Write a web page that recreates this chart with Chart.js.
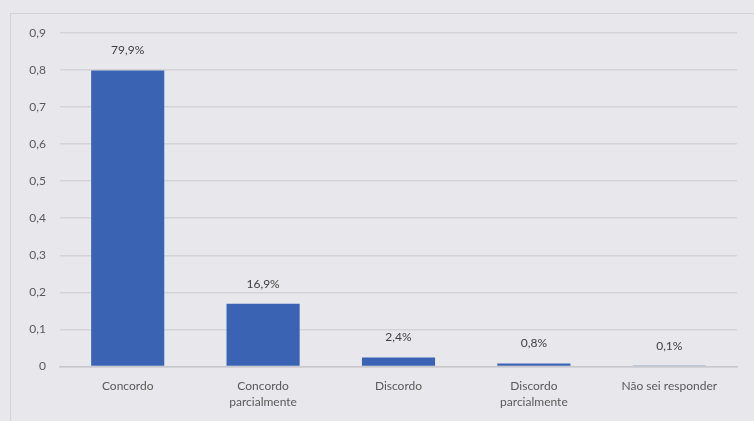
<!DOCTYPE html>
<html>
<head>
<meta charset="utf-8">
<script src="https://cdn.jsdelivr.net/npm/chart.js@4/dist/chart.umd.min.js"></script>
<style>
html,body{margin:0;padding:0;background:#e8e8ec;}
#frame{position:absolute;left:10px;top:13px;width:760px;height:420px;border:1.5px solid #d2d2d6;box-sizing:border-box;}
#wrap{position:absolute;left:0;top:0;width:754px;height:421px;}
</style>
</head>
<body>
<div id="frame"></div>
<div id="wrap"><canvas id="c" width="754" height="421"></canvas></div>
<script>
const categories = [["Concordo"], ["Concordo", "parcialmente"], ["Discordo"], ["Discordo", "parcialmente"], ["Não sei responder"]];
const values = [0.799, 0.169, 0.024, 0.008, 0.001];
const valueLabels = ["79,9%", "16,9%", "2,4%", "0,8%", "0,1%"];

const FONT = 'Lato, "Liberation Sans", sans-serif';

const labelPlugin = {
  id: 'valueLabels',
  afterDatasetsDraw(chart) {
    const ctx = chart.ctx;
    const meta = chart.getDatasetMeta(0);
    ctx.save();
    ctx.font = '12px ' + FONT;
    ctx.fillStyle = '#404040';
    ctx.textAlign = 'center';
    ctx.textBaseline = 'middle';
    meta.data.forEach((bar, i) => {
      ctx.fillText(valueLabels[i], bar.x, bar.y - 20);
    });
    ctx.restore();
  }
};

new Chart(document.getElementById('c'), {
  type: 'bar',
  data: {
    labels: categories,
    datasets: [{
      data: values,
      backgroundColor: '#3a63b3',
      borderWidth: 0,
      barPercentage: 0.54,
      categoryPercentage: 1.0
    }]
  },
  options: {
    responsive: false,
    animation: false,
    devicePixelRatio: 1,
    layout: { padding: { left: 14, right: 17, top: 33, bottom: 7 } },
    plugins: { legend: { display: false }, tooltip: { enabled: false } },
    scales: {
      x: {
        grid: { display: false },
        border: { color: '#c8c8cc', width: 1.5 },
        ticks: {
          color: '#595959',
          font: { family: FONT, size: 12, lineHeight: 1.4 },
          maxRotation: 0,
          autoSkip: false,
          padding: 3
        }
      },
      y: {
        min: 0, max: 0.9,
        border: { display: false },
        grid: { color: '#d4d4d8', lineWidth: 1.5, drawTicks: false },
        afterFit(scale) { scale.width = 46; },
        ticks: {
          stepSize: 0.1,
          padding: 14,
          color: '#595959',
          font: { family: FONT, size: 12 },
          callback: (v) => v === 0 ? '0' : (Math.round(v * 10) / 10).toFixed(1).replace('.', ',')
        }
      }
    }
  },
  plugins: [labelPlugin]
});
</script>
</body>
</html>
